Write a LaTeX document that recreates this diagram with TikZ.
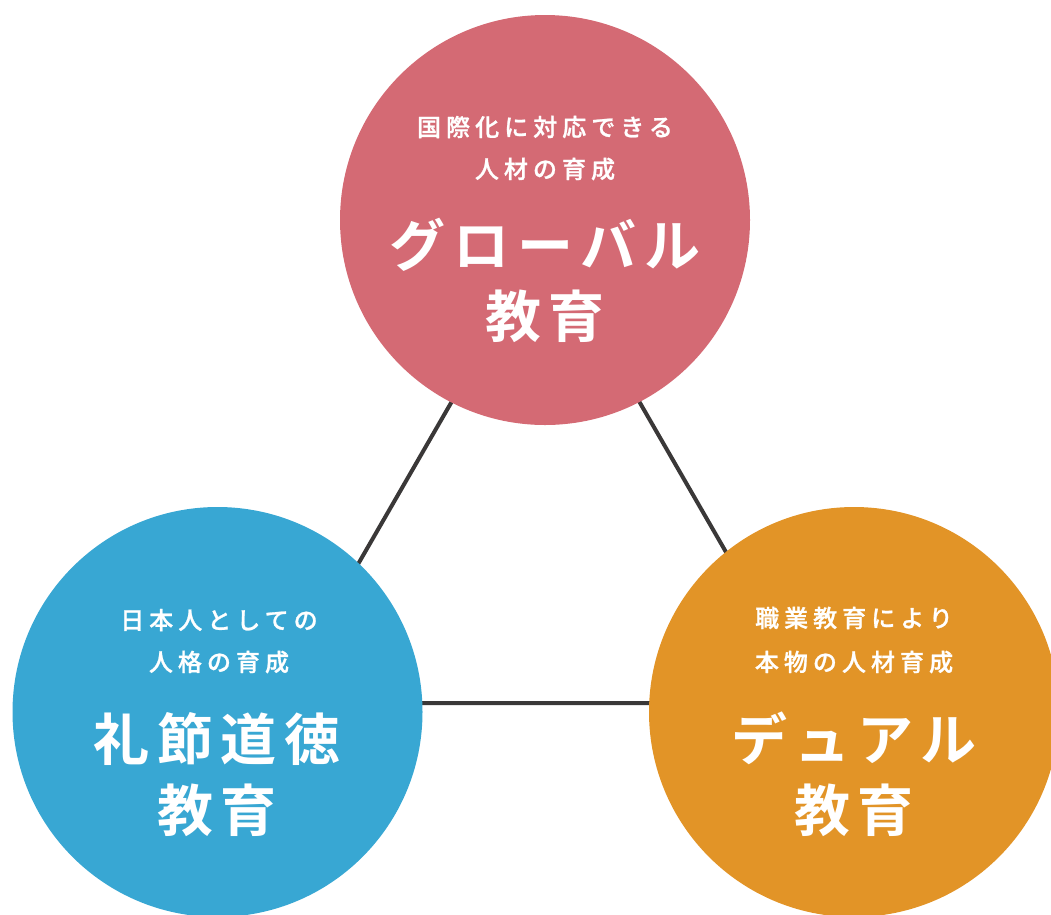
\documentclass[tikz,border=0pt]{standalone}
\usepackage{fontspec}
\newfontfamily\jp[UprightFont={* Medium}]{Noto Sans CJK JP}
\newfontfamily\jpb{Noto Sans CJK JP Bold}
\definecolor{pinkc}{RGB}{212,106,116}
\definecolor{bluec}{RGB}{56,167,211}
\definecolor{orangec}{RGB}{226,148,39}
\definecolor{linec}{RGB}{58,56,56}
\tikzset{
  ball/.style={circle, minimum size=410pt, inner sep=0pt, draw=none},
  subtxt/.style={text=white, inner sep=0pt, font=\jp\fontsize{24}{28}\selectfont\addfontfeature{LetterSpace=21,FakeBold=1}},
  maintxt/.style={text=white, inner sep=0pt, font=\jpb\fontsize{56}{66}\selectfont\addfontfeature{LetterSpace=14}},
  edge/.style={draw=linec, line width=4pt}
}
\begin{document}
\begin{tikzpicture}[x=1pt, y=-1pt]
\useasboundingbox (0,0) rectangle (1051,914);
\clip (0,0) rectangle (1051,914);
\coordinate (va) at (545.5,239);
\coordinate (vb) at (278,703);
\coordinate (vc) at (813,703);
\draw[edge] (va) -- (vb) -- (vc) -- cycle;
\node[ball, fill=pinkc] (top) at (545,220) {};
\node[ball, fill=bluec] (left) at (217.5,712) {};
\node[ball, fill=orangec] (right) at (854,712) {};
% top texts
\node[subtxt] (t1) at (545,127) {国際化に対応できる};
\node[subtxt] (t2) at (545,169) {人材の育成};
\node[maintxt] (t3) at (545,245) {グローバル};
\node[maintxt] (t4) at (545,316) {教育};
% left texts
\node[subtxt] (l1) at (219,620) {日本人としての};
\node[subtxt] (l2) at (219,662) {人格の育成};
\node[maintxt] (l3) at (217,739) {礼節道徳};
\node[maintxt] (l4) at (217,810) {教育};
% right texts
\node[subtxt] (r1) at (854,618) {職業教育により};
\node[subtxt] (r2) at (854,662) {本物の人材育成};
\node[maintxt] (r3) at (854,738) {デュアル};
\node[maintxt] (r4) at (854,810) {教育};
\end{tikzpicture}
\end{document}
